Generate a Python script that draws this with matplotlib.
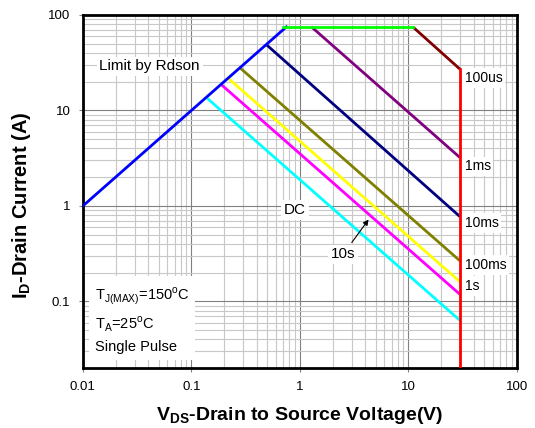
"""Safe operating area chart, log-log."""

import matplotlib
matplotlib.use("Agg")
import matplotlib.pyplot as plt
from matplotlib.ticker import LogLocator, NullFormatter, FixedLocator, FixedFormatter

plt.rcParams["font.family"] = ["Liberation Sans", "DejaVu Sans"]
plt.rcParams["mathtext.fontset"] = "custom"
plt.rcParams["mathtext.rm"] = "Liberation Sans"
plt.rcParams["mathtext.bf"] = "Liberation Sans:bold"

# boundary segments (V, A)
rdson_v = [0.01, 0.75]
rdson_i = [1.0, 75.0]
imax_v = [0.70, 11.0]
imax_i = [75.0, 75.0]
vmax_v = [30.0, 30.0]
vmax_i = [27.0, 0.02]

# pulse lines: (label, colour, V points, I points)
pulse_names = ["100us", "1ms", "10ms", "100ms", "1s", "10s", "DC"]
pulse_colors = ["#800000", "#800080", "#000080", "#808000", "#ffff00", "#ff00ff", "#00ffff"]
pulse_v = [[11.0, 30.0], [1.28, 30.0], [0.49, 30.0], [0.28, 30.0],
           [0.216, 30.0], [0.19, 30.0], [0.14, 30.0]]
pulse_i = [[75.0, 27.0], [75.0, 3.2], [49.0, 0.77], [28.0, 0.265],
           [22.0, 0.16], [18.5, 0.118], [13.4, 0.063]]

x_ticks = [0.01, 0.1, 1, 10, 100]
x_labels = ["0.01", "0.1", "1", "10", "100"]
y_ticks = [0.1, 1, 10, 100]
y_labels = ["0.1", "1", "10", "100"]

fig = plt.figure(figsize=(5.35, 4.28), dpi=100)
ax = fig.add_axes([0.155, 0.14, 0.811, 0.825])
ax.set_xscale("log")
ax.set_yscale("log")
ax.set_xlim(0.01, 100)
ax.set_ylim(0.02, 100)

ax.xaxis.set_major_locator(FixedLocator(x_ticks))
ax.xaxis.set_major_formatter(FixedFormatter(x_labels))
ax.yaxis.set_major_locator(FixedLocator(y_ticks))
ax.yaxis.set_major_formatter(FixedFormatter(y_labels))
for axis in (ax.xaxis, ax.yaxis):
    axis.set_minor_locator(LogLocator(base=10, subs=range(2, 10), numticks=20))
    axis.set_minor_formatter(NullFormatter())

ax.grid(True, which="major", color="#808080", linewidth=0.8)
ax.grid(True, which="minor", color="#c8c8c8", linewidth=0.8)
ax.set_axisbelow(True)
ax.tick_params(which="major", length=3, width=0.8, labelsize=9.5, pad=6, color="#808080")
ax.tick_params(which="minor", length=0)
for s in ax.spines.values():
    s.set_linewidth(2)

lw = 2.0
for name, c, v, i in zip(pulse_names, pulse_colors, pulse_v, pulse_i):
    ax.plot(v, i, color=c, linewidth=lw, solid_capstyle="butt", zorder=3)
ax.plot(rdson_v, rdson_i, color="#0000ff", linewidth=lw, zorder=4)
ax.plot(imax_v, imax_i, color="#00ff00", linewidth=lw, zorder=4)
ax.plot(vmax_v, vmax_i, color="#ff0000", linewidth=lw, zorder=4, clip_on=True)

box = dict(facecolor="white", edgecolor="none", pad=2)
ax.text(0.0142, 29, "Limit by Rdson", fontsize=11, ha="left", va="center", bbox=box)

label_y = {"100us": 22, "1ms": 2.6, "10ms": 0.66, "100ms": 0.24, "1s": 0.145}
for name in ["100us", "1ms", "10ms", "100ms", "1s"]:
    ax.text(33, label_y[name], name, fontsize=10, ha="left", va="center", bbox=box)

ax.text(0.9, 0.91, "DC", fontsize=11, ha="center", va="center", bbox=box)
ax.annotate("10s", xy=(4.3, 0.72), xytext=(2.5, 0.31), fontsize=11,
            ha="center", va="center", bbox=box,
            arrowprops=dict(arrowstyle="-|>", color="black", lw=0.8,
                            shrinkA=2, shrinkB=0, mutation_scale=8))

cond = (r"T$_{\mathregular{J(MAX)}}$=150$^{\mathregular{o}}$C" "\n"
        r"T$_{\mathregular{A}}$=25$^{\mathregular{o}}$C" "\n"
        "Single Pulse")
ax.text(0.0128, 0.028, cond, fontsize=10.5, ha="left", va="bottom",
        linespacing=1.55, bbox=dict(facecolor="white", edgecolor="none", pad=4))

ax.set_xlabel(r"V$_{\mathbf{DS}}$-Drain to Source Voltage(V)",
              fontsize=14, fontweight="bold", labelpad=9)
ax.set_ylabel(r"I$_{\mathbf{D}}$-Drain Current (A)",
              fontsize=14.5, fontweight="bold", labelpad=10)
ax.yaxis.set_label_coords(-0.115, 0.46)

fig.savefig("out.png", dpi=100)
